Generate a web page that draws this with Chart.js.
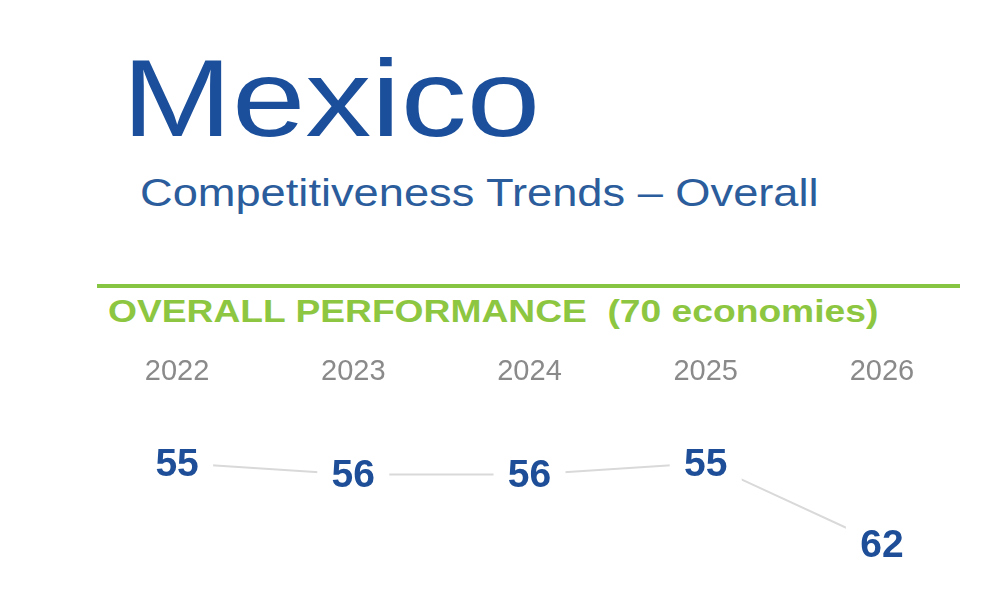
<!DOCTYPE html>
<html>
<head>
<meta charset="utf-8">
<script src="https://cdn.jsdelivr.net/npm/chart.js@4/dist/chart.umd.min.js"></script>
<style>
  body { margin:0; background:#fff; width:989px; height:605px; overflow:hidden; position:relative; font-family:"Liberation Sans", Arial, sans-serif; }
  #title { position:absolute; left:122px; top:43px; font-size:110px; color:#1b4f9b; line-height:1; transform:scaleX(1.2); transform-origin:left top; white-space:nowrap; }
  #sub { position:absolute; left:140px; top:174px; font-size:38px; color:#2b5d9c; line-height:1; transform:scaleX(1.19); transform-origin:left top; white-space:nowrap; }
  #rule { position:absolute; left:97px; top:284px; width:863px; height:4px; background:#86c542; }
  #perf { position:absolute; left:108px; top:296px; font-size:31px; font-weight:bold; color:#8dc640; line-height:1; transform:scaleX(1.2); transform-origin:left top; white-space:nowrap; }
  #wrap { position:absolute; left:0; top:345px; width:989px; height:255px; }
</style>
</head>
<body>
<div id="title">Mexico</div>
<div id="sub">Competitiveness Trends – Overall</div>
<div id="rule"></div>
<div id="perf">OVERALL PERFORMANCE&nbsp;&nbsp;(70 economies)</div>
<div id="wrap"><canvas id="myChart"></canvas></div>
<script>
var years = ['2022', '2023', '2024', '2025', '2026'];
var ranks = [55, 56, 56, 55, 62];

// white box behind each rank so the line stops short of the number
var rankLabels = {
    id: 'rankLabels',
    afterDatasetsDraw: function (chart) {
        var ctx = chart.ctx;
        var meta = chart.getDatasetMeta(0);
        ctx.save();
        ctx.font = 'bold 39px "Liberation Sans", Arial, sans-serif';
        ctx.textAlign = 'center';
        ctx.textBaseline = 'middle';
        for (var i = 0; i < meta.data.length; i++) {
            var p = meta.data[i];
            ctx.fillStyle = '#ffffff';
            ctx.fillRect(p.x - 36, p.y - 22, 72, 44);
            ctx.fillStyle = '#1d4e97';
            ctx.fillText(ranks[i], p.x, p.y + 2);
        }
        ctx.restore();
    }
};

var ctx = document.getElementById('myChart').getContext('2d');
var myChart = new Chart(ctx, {
    type: 'line',
    data: {
        labels: years,
        datasets: [{
            data: ranks,
            borderColor: '#d9d9d9',
            borderWidth: 2,
            pointRadius: 0,
            tension: 0
        }]
    },
    options: {
        responsive: true,
        maintainAspectRatio: false,
        animation: false,
        layout: { padding: { left: 89, right: 19, top: 10, bottom: 0 } },
        plugins: { legend: { display: false }, tooltip: { enabled: false } },
        scales: {
            x: {
                position: 'top',
                offset: true,
                grid: { display: false, drawTicks: false },
                border: { display: false },
                ticks: { color: '#8a8a8a', padding: 0, font: { family: '"Liberation Sans", Arial, sans-serif', size: 29 } }
            },
            y: {
                display: false,
                reverse: true,
                min: 48.7,
                max: 66.8
            }
        }
    },
    plugins: [rankLabels]
});
</script>
</body>
</html>
